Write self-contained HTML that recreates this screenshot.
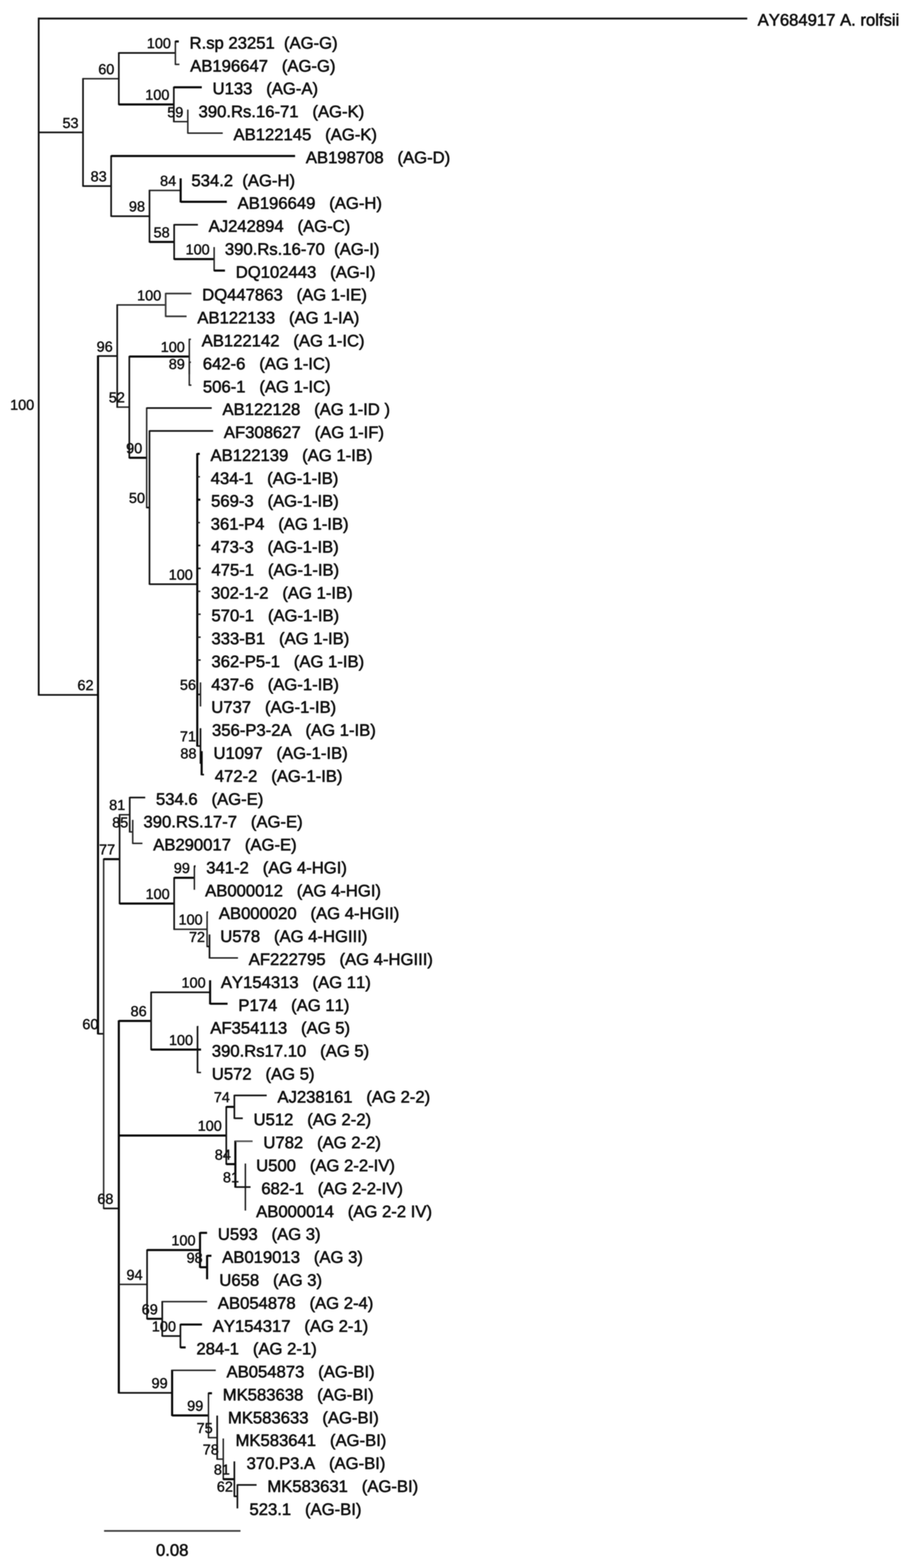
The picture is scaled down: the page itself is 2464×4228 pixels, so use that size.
<!DOCTYPE html>
<html lang="en">
<head>
<meta charset="utf-8">
<title>Phylogenetic tree</title>
<style>
html,body{margin:0;padding:0;background:#fff;}
body{width:2464px;height:4228px;overflow:hidden;}
svg{display:block;width:2464px;height:4228px;filter:blur(0.9px);}
text{font-family:"Liberation Sans",Arial,Helvetica,sans-serif;fill:#111;stroke:#111;stroke-width:1.5px;stroke-linejoin:round;white-space:pre;font-kerning:none;font-feature-settings:"kern" 0,"liga" 0;text-rendering:geometricPrecision;}
text.b{stroke-width:1.1px;}
line{stroke-linecap:butt;}
</style>
</head>
<body>
<svg width="2464" height="4228" viewBox="0 0 2464 4228">
<rect x="0" y="0" width="2464" height="4228" fill="#ffffff"/>
<g id="branches" fill="none">
<line x1="104.3" y1="47.6" x2="104.3" y2="1875.8" stroke="#101010" stroke-width="4.8"/>
<line x1="104.3" y1="50.0" x2="2014.5" y2="50.0" stroke="#101010" stroke-width="4.8"/>
<line x1="104.3" y1="357.0" x2="223.8" y2="357.0" stroke="#121212" stroke-width="4.5"/>
<line x1="223.8" y1="210.6" x2="223.8" y2="503.4" stroke="#121212" stroke-width="4.5"/>
<line x1="223.8" y1="212.2" x2="320.3" y2="212.2" stroke="#242424" stroke-width="4.0"/>
<line x1="320.3" y1="141.1" x2="320.3" y2="283.3" stroke="#121212" stroke-width="4.5"/>
<line x1="320.3" y1="142.7" x2="472.8" y2="142.7" stroke="#121212" stroke-width="4.5"/>
<line x1="472.8" y1="110.2" x2="472.8" y2="175.2" stroke="#242424" stroke-width="4.0"/>
<line x1="472.8" y1="111.8" x2="482.0" y2="111.8" stroke="#080808" stroke-width="5.7"/>
<line x1="472.8" y1="173.6" x2="483.7" y2="173.6" stroke="#242424" stroke-width="4.0"/>
<line x1="320.3" y1="281.7" x2="468.6" y2="281.7" stroke="#080808" stroke-width="5.7"/>
<line x1="468.6" y1="233.7" x2="468.6" y2="329.6" stroke="#121212" stroke-width="4.5"/>
<line x1="468.6" y1="235.3" x2="544.0" y2="235.3" stroke="#080808" stroke-width="5.7"/>
<line x1="468.6" y1="328.0" x2="506.3" y2="328.0" stroke="#242424" stroke-width="4.0"/>
<line x1="506.3" y1="295.5" x2="506.3" y2="360.5" stroke="#242424" stroke-width="4.0"/>
<line x1="506.3" y1="358.9" x2="600.5" y2="358.9" stroke="#242424" stroke-width="4.0"/>
<line x1="223.8" y1="501.8" x2="299.6" y2="501.8" stroke="#121212" stroke-width="4.5"/>
<line x1="299.6" y1="419.1" x2="299.6" y2="584.5" stroke="#121212" stroke-width="4.5"/>
<line x1="299.6" y1="420.7" x2="795.5" y2="420.7" stroke="#080808" stroke-width="5.7"/>
<line x1="299.6" y1="582.9" x2="403.0" y2="582.9" stroke="#121212" stroke-width="4.5"/>
<line x1="403.0" y1="511.8" x2="403.0" y2="654.0" stroke="#121212" stroke-width="4.5"/>
<line x1="403.0" y1="513.4" x2="487.0" y2="513.4" stroke="#242424" stroke-width="4.0"/>
<line x1="487.0" y1="480.9" x2="487.0" y2="545.8" stroke="#080808" stroke-width="5.7"/>
<line x1="487.0" y1="544.2" x2="611.5" y2="544.2" stroke="#080808" stroke-width="5.7"/>
<line x1="403.0" y1="652.4" x2="469.5" y2="652.4" stroke="#080808" stroke-width="5.7"/>
<line x1="469.5" y1="604.4" x2="469.5" y2="700.3" stroke="#121212" stroke-width="4.5"/>
<line x1="469.5" y1="606.0" x2="533.5" y2="606.0" stroke="#121212" stroke-width="4.5"/>
<line x1="469.5" y1="698.7" x2="577.3" y2="698.7" stroke="#080808" stroke-width="5.7"/>
<line x1="577.3" y1="666.2" x2="577.3" y2="731.2" stroke="#242424" stroke-width="4.0"/>
<line x1="577.3" y1="729.6" x2="606.5" y2="729.6" stroke="#080808" stroke-width="5.7"/>
<line x1="104.3" y1="1873.8" x2="264.2" y2="1873.8" stroke="#121212" stroke-width="4.5"/>
<line x1="264.2" y1="958.4" x2="264.2" y2="2789.1" stroke="#080808" stroke-width="5.7"/>
<line x1="264.2" y1="960.0" x2="316.0" y2="960.0" stroke="#121212" stroke-width="4.5"/>
<line x1="316.0" y1="820.6" x2="316.0" y2="1099.4" stroke="#121212" stroke-width="4.5"/>
<line x1="316.0" y1="822.2" x2="446.6" y2="822.2" stroke="#242424" stroke-width="4.0"/>
<line x1="446.6" y1="789.8" x2="446.6" y2="854.7" stroke="#3c3c3c" stroke-width="4.5"/>
<line x1="446.6" y1="791.4" x2="516.0" y2="791.4" stroke="#333" stroke-width="4.5"/>
<line x1="446.6" y1="853.1" x2="503.0" y2="853.1" stroke="#333" stroke-width="4.5"/>
<line x1="316.0" y1="1097.8" x2="348.6" y2="1097.8" stroke="#242424" stroke-width="4.0"/>
<line x1="348.6" y1="959.7" x2="348.6" y2="1236.0" stroke="#121212" stroke-width="4.5"/>
<line x1="348.6" y1="961.3" x2="510.3" y2="961.3" stroke="#080808" stroke-width="5.7"/>
<line x1="510.3" y1="913.3" x2="510.3" y2="1009.2" stroke="#242424" stroke-width="4.0"/>
<line x1="510.3" y1="914.9" x2="514.7" y2="914.9" stroke="#242424" stroke-width="4.0"/>
<line x1="510.3" y1="975.1" x2="510.3" y2="1040.1" stroke="#242424" stroke-width="4.0"/>
<line x1="510.3" y1="976.7" x2="514.7" y2="976.7" stroke="#242424" stroke-width="4.0"/>
<line x1="510.3" y1="1038.5" x2="516.0" y2="1038.5" stroke="#242424" stroke-width="4.0"/>
<line x1="348.6" y1="1234.4" x2="395.4" y2="1234.4" stroke="#080808" stroke-width="5.7"/>
<line x1="395.4" y1="1098.7" x2="395.4" y2="1370.2" stroke="#242424" stroke-width="4.0"/>
<line x1="395.4" y1="1100.3" x2="570.8" y2="1100.3" stroke="#121212" stroke-width="4.5"/>
<line x1="395.4" y1="1368.6" x2="403.0" y2="1368.6" stroke="#121212" stroke-width="4.5"/>
<line x1="403.0" y1="1160.4" x2="403.0" y2="1576.8" stroke="#121212" stroke-width="4.5"/>
<line x1="403.0" y1="1162.0" x2="574.6" y2="1162.0" stroke="#121212" stroke-width="4.5"/>
<line x1="403.0" y1="1575.2" x2="531.8" y2="1575.2" stroke="#121212" stroke-width="4.5"/>
<line x1="531.8" y1="1222.2" x2="531.8" y2="2013.1" stroke="#080808" stroke-width="5.7"/>
<line x1="531.8" y1="1223.8" x2="538.5" y2="1223.8" stroke="#080808" stroke-width="5.7"/>
<line x1="531.8" y1="1285.6" x2="539.0" y2="1285.6" stroke="#242424" stroke-width="4.0"/>
<line x1="531.8" y1="1347.4" x2="540.0" y2="1347.4" stroke="#080808" stroke-width="5.7"/>
<line x1="531.8" y1="1409.2" x2="539.0" y2="1409.2" stroke="#242424" stroke-width="4.0"/>
<line x1="531.8" y1="1470.9" x2="540.0" y2="1470.9" stroke="#121212" stroke-width="4.5"/>
<line x1="531.8" y1="1532.7" x2="541.0" y2="1532.7" stroke="#121212" stroke-width="4.5"/>
<line x1="531.8" y1="1594.5" x2="540.0" y2="1594.5" stroke="#242424" stroke-width="4.0"/>
<line x1="531.8" y1="1656.3" x2="541.0" y2="1656.3" stroke="#242424" stroke-width="4.0"/>
<line x1="531.8" y1="1718.1" x2="541.0" y2="1718.1" stroke="#242424" stroke-width="4.0"/>
<line x1="531.8" y1="1779.8" x2="541.0" y2="1779.8" stroke="#242424" stroke-width="4.0"/>
<line x1="531.8" y1="1872.5" x2="540.5" y2="1872.5" stroke="#121212" stroke-width="4.5"/>
<line x1="540.5" y1="1840.0" x2="540.5" y2="1905.0" stroke="#242424" stroke-width="4.0"/>
<line x1="531.8" y1="2011.5" x2="540.5" y2="2011.5" stroke="#121212" stroke-width="4.5"/>
<line x1="540.5" y1="1963.6" x2="540.5" y2="2059.4" stroke="#121212" stroke-width="4.5"/>
<line x1="540.5" y1="2057.8" x2="543.6" y2="2057.8" stroke="#121212" stroke-width="4.5"/>
<line x1="543.6" y1="2025.4" x2="543.6" y2="2090.3" stroke="#080808" stroke-width="5.7"/>
<line x1="543.6" y1="2088.7" x2="550.0" y2="2088.7" stroke="#121212" stroke-width="4.5"/>
<line x1="264.2" y1="2787.5" x2="279.4" y2="2787.5" stroke="#121212" stroke-width="4.5"/>
<line x1="279.4" y1="2315.0" x2="279.4" y2="3260.1" stroke="#242424" stroke-width="4.0"/>
<line x1="279.4" y1="2316.6" x2="322.4" y2="2316.6" stroke="#080808" stroke-width="5.7"/>
<line x1="322.4" y1="2195.3" x2="322.4" y2="2437.9" stroke="#121212" stroke-width="4.5"/>
<line x1="322.4" y1="2196.9" x2="349.7" y2="2196.9" stroke="#242424" stroke-width="4.0"/>
<line x1="349.7" y1="2148.9" x2="349.7" y2="2244.8" stroke="#121212" stroke-width="4.5"/>
<line x1="349.7" y1="2150.5" x2="391.5" y2="2150.5" stroke="#121212" stroke-width="4.5"/>
<line x1="349.7" y1="2243.2" x2="357.8" y2="2243.2" stroke="#242424" stroke-width="4.0"/>
<line x1="357.8" y1="2210.7" x2="357.8" y2="2275.7" stroke="#242424" stroke-width="4.0"/>
<line x1="357.8" y1="2274.1" x2="384.0" y2="2274.1" stroke="#242424" stroke-width="4.0"/>
<line x1="322.4" y1="2436.3" x2="469.5" y2="2436.3" stroke="#080808" stroke-width="5.7"/>
<line x1="469.5" y1="2365.2" x2="469.5" y2="2507.4" stroke="#121212" stroke-width="4.5"/>
<line x1="469.5" y1="2366.8" x2="524.0" y2="2366.8" stroke="#080808" stroke-width="5.7"/>
<line x1="524.0" y1="2334.3" x2="524.0" y2="2399.2" stroke="#242424" stroke-width="4.0"/>
<line x1="524.0" y1="2335.9" x2="527.0" y2="2335.9" stroke="#080808" stroke-width="5.7"/>
<line x1="469.5" y1="2505.8" x2="558.3" y2="2505.8" stroke="#242424" stroke-width="4.0"/>
<line x1="558.3" y1="2457.8" x2="558.3" y2="2553.7" stroke="#242424" stroke-width="4.0"/>
<line x1="558.3" y1="2459.4" x2="561.0" y2="2459.4" stroke="#242424" stroke-width="4.0"/>
<line x1="558.3" y1="2552.1" x2="564.8" y2="2552.1" stroke="#121212" stroke-width="4.5"/>
<line x1="564.8" y1="2519.6" x2="564.8" y2="2584.6" stroke="#121212" stroke-width="4.5"/>
<line x1="564.8" y1="2583.0" x2="641.6" y2="2583.0" stroke="#242424" stroke-width="4.0"/>
<line x1="279.4" y1="3258.5" x2="320.3" y2="3258.5" stroke="#121212" stroke-width="4.5"/>
<line x1="320.3" y1="2751.3" x2="320.3" y2="3757.4" stroke="#080808" stroke-width="5.7"/>
<line x1="320.3" y1="2752.9" x2="407.4" y2="2752.9" stroke="#080808" stroke-width="5.7"/>
<line x1="407.4" y1="2674.1" x2="407.4" y2="2831.7" stroke="#121212" stroke-width="4.5"/>
<line x1="407.4" y1="2675.7" x2="566.4" y2="2675.7" stroke="#121212" stroke-width="4.5"/>
<line x1="566.4" y1="2643.2" x2="566.4" y2="2708.1" stroke="#080808" stroke-width="5.7"/>
<line x1="566.4" y1="2706.5" x2="613.5" y2="2706.5" stroke="#080808" stroke-width="5.7"/>
<line x1="407.4" y1="2830.1" x2="532.5" y2="2830.1" stroke="#080808" stroke-width="5.7"/>
<line x1="532.5" y1="2766.7" x2="532.5" y2="2893.5" stroke="#121212" stroke-width="4.5"/>
<line x1="532.5" y1="2768.3" x2="535.0" y2="2768.3" stroke="#242424" stroke-width="4.0"/>
<line x1="532.5" y1="2830.1" x2="542.0" y2="2830.1" stroke="#080808" stroke-width="5.7"/>
<line x1="532.5" y1="2891.9" x2="542.0" y2="2891.9" stroke="#242424" stroke-width="4.0"/>
<line x1="320.3" y1="3061.8" x2="610.0" y2="3061.8" stroke="#080808" stroke-width="5.7"/>
<line x1="610.0" y1="2983.0" x2="610.0" y2="3140.6" stroke="#121212" stroke-width="4.5"/>
<line x1="610.0" y1="2984.6" x2="631.8" y2="2984.6" stroke="#080808" stroke-width="5.7"/>
<line x1="631.8" y1="2952.1" x2="631.8" y2="3017.0" stroke="#121212" stroke-width="4.5"/>
<line x1="631.8" y1="2953.7" x2="719.0" y2="2953.7" stroke="#121212" stroke-width="4.5"/>
<line x1="631.8" y1="3015.4" x2="654.5" y2="3015.4" stroke="#121212" stroke-width="4.5"/>
<line x1="610.0" y1="3139.0" x2="634.5" y2="3139.0" stroke="#080808" stroke-width="5.7"/>
<line x1="634.5" y1="3075.6" x2="634.5" y2="3202.4" stroke="#080808" stroke-width="5.7"/>
<line x1="634.5" y1="3077.2" x2="681.0" y2="3077.2" stroke="#555" stroke-width="4.5"/>
<line x1="634.5" y1="3200.8" x2="661.5" y2="3200.8" stroke="#121212" stroke-width="4.5"/>
<line x1="661.5" y1="3137.4" x2="661.5" y2="3264.2" stroke="#121212" stroke-width="3.8"/>
<line x1="661.5" y1="3200.8" x2="675.4" y2="3200.8" stroke="#121212" stroke-width="4.5"/>
<line x1="320.3" y1="3463.3" x2="396.5" y2="3463.3" stroke="#242424" stroke-width="4.0"/>
<line x1="396.5" y1="3369.1" x2="396.5" y2="3557.6" stroke="#121212" stroke-width="4.5"/>
<line x1="396.5" y1="3370.7" x2="539.2" y2="3370.7" stroke="#080808" stroke-width="5.7"/>
<line x1="539.2" y1="3322.7" x2="539.2" y2="3418.6" stroke="#080808" stroke-width="5.7"/>
<line x1="539.2" y1="3324.3" x2="558.3" y2="3324.3" stroke="#080808" stroke-width="5.7"/>
<line x1="539.2" y1="3417.0" x2="558.3" y2="3417.0" stroke="#080808" stroke-width="5.7"/>
<line x1="558.3" y1="3384.5" x2="558.3" y2="3449.5" stroke="#080808" stroke-width="5.7"/>
<line x1="558.3" y1="3386.1" x2="570.0" y2="3386.1" stroke="#080808" stroke-width="5.7"/>
<line x1="396.5" y1="3556.0" x2="437.4" y2="3556.0" stroke="#080808" stroke-width="5.7"/>
<line x1="437.4" y1="3508.1" x2="437.4" y2="3604.0" stroke="#121212" stroke-width="4.5"/>
<line x1="437.4" y1="3509.7" x2="558.3" y2="3509.7" stroke="#242424" stroke-width="4.0"/>
<line x1="437.4" y1="3602.4" x2="486.4" y2="3602.4" stroke="#121212" stroke-width="4.5"/>
<line x1="486.4" y1="3569.9" x2="486.4" y2="3634.8" stroke="#121212" stroke-width="4.5"/>
<line x1="486.4" y1="3571.5" x2="544.5" y2="3571.5" stroke="#080808" stroke-width="5.7"/>
<line x1="486.4" y1="3633.2" x2="500.5" y2="3633.2" stroke="#080808" stroke-width="5.7"/>
<line x1="320.3" y1="3755.8" x2="464.0" y2="3755.8" stroke="#121212" stroke-width="4.5"/>
<line x1="464.0" y1="3693.4" x2="464.0" y2="3818.2" stroke="#080808" stroke-width="5.7"/>
<line x1="464.0" y1="3695.0" x2="581.7" y2="3695.0" stroke="#242424" stroke-width="4.0"/>
<line x1="464.0" y1="3816.6" x2="562.0" y2="3816.6" stroke="#080808" stroke-width="5.7"/>
<line x1="562.0" y1="3755.2" x2="562.0" y2="3878.1" stroke="#242424" stroke-width="4.0"/>
<line x1="562.0" y1="3756.8" x2="571.5" y2="3756.8" stroke="#080808" stroke-width="5.7"/>
<line x1="562.0" y1="3876.5" x2="585.5" y2="3876.5" stroke="#242424" stroke-width="4.0"/>
<line x1="585.5" y1="3817.0" x2="585.5" y2="3936.0" stroke="#121212" stroke-width="4.5"/>
<line x1="585.5" y1="3934.4" x2="601.9" y2="3934.4" stroke="#242424" stroke-width="4.0"/>
<line x1="601.9" y1="3878.8" x2="601.9" y2="3990.1" stroke="#242424" stroke-width="4.0"/>
<line x1="601.9" y1="3988.5" x2="631.8" y2="3988.5" stroke="#080808" stroke-width="5.7"/>
<line x1="631.8" y1="3940.5" x2="631.8" y2="4036.4" stroke="#121212" stroke-width="4.5"/>
<line x1="631.8" y1="4034.8" x2="640.0" y2="4034.8" stroke="#121212" stroke-width="4.5"/>
<line x1="640.0" y1="4002.3" x2="640.0" y2="4067.3" stroke="#121212" stroke-width="4.5"/>
<line x1="640.0" y1="4003.9" x2="691.7" y2="4003.9" stroke="#121212" stroke-width="4.5"/>
<line x1="280.5" y1="4128.0" x2="648.3" y2="4128.0" stroke="#3a3a3a" stroke-width="4.6"/>
</g>
<g id="labels">
<text x="2042.5" y="69.0" text-anchor="start" font-size="44.9" xml:space="preserve">AY684917 A. rolfsii</text>
<text class="b" x="92.3" y="1105.4" text-anchor="end" font-size="39" xml:space="preserve">100</text>
<text class="b" x="211.8" y="344.5" text-anchor="end" font-size="39" xml:space="preserve">53</text>
<text class="b" x="308.3" y="199.7" text-anchor="end" font-size="39" xml:space="preserve">60</text>
<text class="b" x="460.8" y="130.2" text-anchor="end" font-size="39" xml:space="preserve">100</text>
<text x="511.0" y="130.8" text-anchor="start" font-size="44.9" xml:space="preserve">R.sp 23251  (AG-G)</text>
<text x="512.7" y="192.6" text-anchor="start" font-size="44.9" xml:space="preserve">AB196647   (AG-G)</text>
<text class="b" x="456.6" y="269.2" text-anchor="end" font-size="39" xml:space="preserve">100</text>
<text x="573.0" y="254.3" text-anchor="start" font-size="44.9" xml:space="preserve">U133   (AG-A)</text>
<text class="b" x="494.3" y="315.5" text-anchor="end" font-size="39" xml:space="preserve">59</text>
<text x="535.3" y="316.1" text-anchor="start" font-size="44.9" xml:space="preserve">390.Rs.16-71   (AG-K)</text>
<text x="629.5" y="377.9" text-anchor="start" font-size="44.9" xml:space="preserve">AB122145   (AG-K)</text>
<text class="b" x="287.6" y="489.3" text-anchor="end" font-size="39" xml:space="preserve">83</text>
<text x="824.5" y="439.7" text-anchor="start" font-size="44.9" xml:space="preserve">AB198708   (AG-D)</text>
<text class="b" x="391.0" y="570.4" text-anchor="end" font-size="39" xml:space="preserve">98</text>
<text class="b" x="475.0" y="500.9" text-anchor="end" font-size="39" xml:space="preserve">84</text>
<text x="516.0" y="501.5" text-anchor="start" font-size="44.9" xml:space="preserve">534.2  (AG-H)</text>
<text x="640.5" y="563.2" text-anchor="start" font-size="44.9" xml:space="preserve">AB196649   (AG-H)</text>
<text class="b" x="457.5" y="639.9" text-anchor="end" font-size="39" xml:space="preserve">58</text>
<text x="562.5" y="625.0" text-anchor="start" font-size="44.9" xml:space="preserve">AJ242894   (AG-C)</text>
<text class="b" x="565.3" y="686.2" text-anchor="end" font-size="39" xml:space="preserve">100</text>
<text x="606.3" y="686.8" text-anchor="start" font-size="44.9" xml:space="preserve">390.Rs.16-70  (AG-I)</text>
<text x="635.5" y="748.6" text-anchor="start" font-size="44.9" xml:space="preserve">DQ102443   (AG-I)</text>
<text class="b" x="252.2" y="1861.3" text-anchor="end" font-size="39" xml:space="preserve">62</text>
<text class="b" x="304.0" y="947.5" text-anchor="end" font-size="39" xml:space="preserve">96</text>
<text class="b" x="434.6" y="809.8" text-anchor="end" font-size="39" xml:space="preserve">100</text>
<text x="545.0" y="810.4" text-anchor="start" font-size="44.9" xml:space="preserve">DQ447863   (AG 1-IE)</text>
<text x="532.0" y="872.1" text-anchor="start" font-size="44.9" xml:space="preserve">AB122133   (AG 1-IA)</text>
<text class="b" x="336.6" y="1085.3" text-anchor="end" font-size="39" xml:space="preserve">52</text>
<text class="b" x="498.3" y="948.8" text-anchor="end" font-size="39" xml:space="preserve">100</text>
<text x="543.7" y="933.9" text-anchor="start" font-size="44.9" xml:space="preserve">AB122142   (AG 1-IC)</text>
<text class="b" x="498.3" y="995.1" text-anchor="end" font-size="39" xml:space="preserve">89</text>
<text x="546.7" y="995.7" text-anchor="start" font-size="44.9" xml:space="preserve">642-6   (AG 1-IC)</text>
<text x="547.0" y="1057.5" text-anchor="start" font-size="44.9" xml:space="preserve">506-1   (AG 1-IC)</text>
<text class="b" x="383.4" y="1221.9" text-anchor="end" font-size="39" xml:space="preserve">90</text>
<text x="599.8" y="1119.3" text-anchor="start" font-size="44.9" xml:space="preserve">AB122128   (AG 1-ID )</text>
<text class="b" x="391.0" y="1356.1" text-anchor="end" font-size="39" xml:space="preserve">50</text>
<text x="603.6" y="1181.0" text-anchor="start" font-size="44.9" xml:space="preserve">AF308627   (AG 1-IF)</text>
<text class="b" x="519.8" y="1562.7" text-anchor="end" font-size="39" xml:space="preserve">100</text>
<text x="567.5" y="1242.8" text-anchor="start" font-size="44.9" xml:space="preserve">AB122139   (AG 1-IB)</text>
<text x="568.0" y="1304.6" text-anchor="start" font-size="44.9" xml:space="preserve">434-1   (AG-1-IB)</text>
<text x="569.0" y="1366.4" text-anchor="start" font-size="44.9" xml:space="preserve">569-3   (AG-1-IB)</text>
<text x="568.0" y="1428.2" text-anchor="start" font-size="44.9" xml:space="preserve">361-P4   (AG 1-IB)</text>
<text x="569.0" y="1489.9" text-anchor="start" font-size="44.9" xml:space="preserve">473-3   (AG-1-IB)</text>
<text x="570.0" y="1551.7" text-anchor="start" font-size="44.9" xml:space="preserve">475-1   (AG-1-IB)</text>
<text x="569.0" y="1613.5" text-anchor="start" font-size="44.9" xml:space="preserve">302-1-2   (AG 1-IB)</text>
<text x="570.0" y="1675.3" text-anchor="start" font-size="44.9" xml:space="preserve">570-1   (AG-1-IB)</text>
<text x="570.0" y="1737.1" text-anchor="start" font-size="44.9" xml:space="preserve">333-B1   (AG 1-IB)</text>
<text x="570.0" y="1798.8" text-anchor="start" font-size="44.9" xml:space="preserve">362-P5-1   (AG 1-IB)</text>
<text class="b" x="528.5" y="1860.0" text-anchor="end" font-size="39" xml:space="preserve">56</text>
<text x="569.5" y="1860.6" text-anchor="start" font-size="44.9" xml:space="preserve">437-6   (AG-1-IB)</text>
<text x="569.5" y="1922.4" text-anchor="start" font-size="44.9" xml:space="preserve">U737   (AG-1-IB)</text>
<text class="b" x="528.5" y="1999.0" text-anchor="end" font-size="39" xml:space="preserve">71</text>
<text x="571.5" y="1984.2" text-anchor="start" font-size="44.9" xml:space="preserve">356-P3-2A   (AG 1-IB)</text>
<text class="b" x="529.6" y="2045.3" text-anchor="end" font-size="39" xml:space="preserve">88</text>
<text x="575.6" y="2046.0" text-anchor="start" font-size="44.9" xml:space="preserve">U1097   (AG-1-IB)</text>
<text x="579.0" y="2107.7" text-anchor="start" font-size="44.9" xml:space="preserve">472-2   (AG-1-IB)</text>
<text class="b" x="265.4" y="2775.0" text-anchor="end" font-size="39" xml:space="preserve">60</text>
<text class="b" x="310.4" y="2304.1" text-anchor="end" font-size="39" xml:space="preserve">77</text>
<text class="b" x="337.7" y="2184.4" text-anchor="end" font-size="39" xml:space="preserve">81</text>
<text x="420.5" y="2169.5" text-anchor="start" font-size="44.9" xml:space="preserve">534.6   (AG-E)</text>
<text class="b" x="345.8" y="2230.7" text-anchor="end" font-size="39" xml:space="preserve">85</text>
<text x="386.8" y="2231.3" text-anchor="start" font-size="44.9" xml:space="preserve">390.RS.17-7   (AG-E)</text>
<text x="413.0" y="2293.1" text-anchor="start" font-size="44.9" xml:space="preserve">AB290017   (AG-E)</text>
<text class="b" x="457.5" y="2423.8" text-anchor="end" font-size="39" xml:space="preserve">100</text>
<text class="b" x="512.0" y="2354.2" text-anchor="end" font-size="39" xml:space="preserve">99</text>
<text x="556.0" y="2354.9" text-anchor="start" font-size="44.9" xml:space="preserve">341-2   (AG 4-HGI)</text>
<text x="553.0" y="2416.6" text-anchor="start" font-size="44.9" xml:space="preserve">AB000012   (AG 4-HGI)</text>
<text class="b" x="546.3" y="2493.3" text-anchor="end" font-size="39" xml:space="preserve">100</text>
<text x="590.0" y="2478.4" text-anchor="start" font-size="44.9" xml:space="preserve">AB000020   (AG 4-HGII)</text>
<text class="b" x="552.8" y="2539.6" text-anchor="end" font-size="39" xml:space="preserve">72</text>
<text x="593.8" y="2540.2" text-anchor="start" font-size="44.9" xml:space="preserve">U578   (AG 4-HGIII)</text>
<text x="670.6" y="2602.0" text-anchor="start" font-size="44.9" xml:space="preserve">AF222795   (AG 4-HGIII)</text>
<text class="b" x="305.8" y="3246.0" text-anchor="end" font-size="39" xml:space="preserve">68</text>
<text class="b" x="395.4" y="2740.4" text-anchor="end" font-size="39" xml:space="preserve">86</text>
<text class="b" x="554.4" y="2663.2" text-anchor="end" font-size="39" xml:space="preserve">100</text>
<text x="595.4" y="2663.8" text-anchor="start" font-size="44.9" xml:space="preserve">AY154313   (AG 11)</text>
<text x="642.5" y="2725.5" text-anchor="start" font-size="44.9" xml:space="preserve">P174   (AG 11)</text>
<text class="b" x="520.5" y="2817.6" text-anchor="end" font-size="39" xml:space="preserve">100</text>
<text x="567.0" y="2787.3" text-anchor="start" font-size="44.9" xml:space="preserve">AF354113   (AG 5)</text>
<text x="571.0" y="2849.1" text-anchor="start" font-size="44.9" xml:space="preserve">390.Rs17.10   (AG 5)</text>
<text x="571.0" y="2910.9" text-anchor="start" font-size="44.9" xml:space="preserve">U572   (AG 5)</text>
<text class="b" x="598.0" y="3049.3" text-anchor="end" font-size="39" xml:space="preserve">100</text>
<text class="b" x="619.8" y="2972.1" text-anchor="end" font-size="39" xml:space="preserve">74</text>
<text x="748.0" y="2972.7" text-anchor="start" font-size="44.9" xml:space="preserve">AJ238161   (AG 2-2)</text>
<text x="683.5" y="3034.4" text-anchor="start" font-size="44.9" xml:space="preserve">U512   (AG 2-2)</text>
<text class="b" x="622.5" y="3126.5" text-anchor="end" font-size="39" xml:space="preserve">84</text>
<text x="710.0" y="3096.2" text-anchor="start" font-size="44.9" xml:space="preserve">U782   (AG 2-2)</text>
<text class="b" x="644.5" y="3188.3" text-anchor="end" font-size="39" xml:space="preserve">81</text>
<text x="690.5" y="3158.0" text-anchor="start" font-size="44.9" xml:space="preserve">U500   (AG 2-2-IV)</text>
<text x="704.4" y="3219.8" text-anchor="start" font-size="44.9" xml:space="preserve">682-1   (AG 2-2-IV)</text>
<text x="690.5" y="3281.6" text-anchor="start" font-size="44.9" xml:space="preserve">AB000014   (AG 2-2 IV)</text>
<text class="b" x="384.5" y="3450.8" text-anchor="end" font-size="39" xml:space="preserve">94</text>
<text class="b" x="527.2" y="3358.2" text-anchor="end" font-size="39" xml:space="preserve">100</text>
<text x="587.3" y="3343.3" text-anchor="start" font-size="44.9" xml:space="preserve">U593   (AG 3)</text>
<text class="b" x="546.3" y="3404.5" text-anchor="end" font-size="39" xml:space="preserve">98</text>
<text x="599.0" y="3405.1" text-anchor="start" font-size="44.9" xml:space="preserve">AB019013   (AG 3)</text>
<text x="591.3" y="3466.9" text-anchor="start" font-size="44.9" xml:space="preserve">U658   (AG 3)</text>
<text class="b" x="425.4" y="3543.5" text-anchor="end" font-size="39" xml:space="preserve">69</text>
<text x="587.3" y="3528.7" text-anchor="start" font-size="44.9" xml:space="preserve">AB054878   (AG 2-4)</text>
<text class="b" x="474.4" y="3589.9" text-anchor="end" font-size="39" xml:space="preserve">100</text>
<text x="573.5" y="3590.5" text-anchor="start" font-size="44.9" xml:space="preserve">AY154317   (AG 2-1)</text>
<text x="529.5" y="3652.2" text-anchor="start" font-size="44.9" xml:space="preserve">284-1   (AG 2-1)</text>
<text class="b" x="452.0" y="3743.3" text-anchor="end" font-size="39" xml:space="preserve">99</text>
<text x="610.7" y="3714.0" text-anchor="start" font-size="44.9" xml:space="preserve">AB054873   (AG-BI)</text>
<text class="b" x="548.0" y="3804.1" text-anchor="end" font-size="39" xml:space="preserve">99</text>
<text x="600.5" y="3775.8" text-anchor="start" font-size="44.9" xml:space="preserve">MK583638   (AG-BI)</text>
<text class="b" x="573.5" y="3864.0" text-anchor="end" font-size="39" xml:space="preserve">75</text>
<text x="614.5" y="3837.6" text-anchor="start" font-size="44.9" xml:space="preserve">MK583633   (AG-BI)</text>
<text class="b" x="589.9" y="3921.9" text-anchor="end" font-size="39" xml:space="preserve">78</text>
<text x="634.9" y="3899.4" text-anchor="start" font-size="44.9" xml:space="preserve">MK583641   (AG-BI)</text>
<text class="b" x="619.8" y="3976.0" text-anchor="end" font-size="39" xml:space="preserve">81</text>
<text x="664.8" y="3961.1" text-anchor="start" font-size="44.9" xml:space="preserve">370.P3.A   (AG-BI)</text>
<text class="b" x="628.0" y="4022.3" text-anchor="end" font-size="39" xml:space="preserve">62</text>
<text x="720.7" y="4022.9" text-anchor="start" font-size="44.9" xml:space="preserve">MK583631   (AG-BI)</text>
<text x="672.5" y="4084.7" text-anchor="start" font-size="44.9" xml:space="preserve">523.1   (AG-BI)</text>
<text x="464.3" y="4195.3" text-anchor="middle" font-size="44.9" xml:space="preserve">0.08</text>
</g>
</svg>
</body>
</html>
